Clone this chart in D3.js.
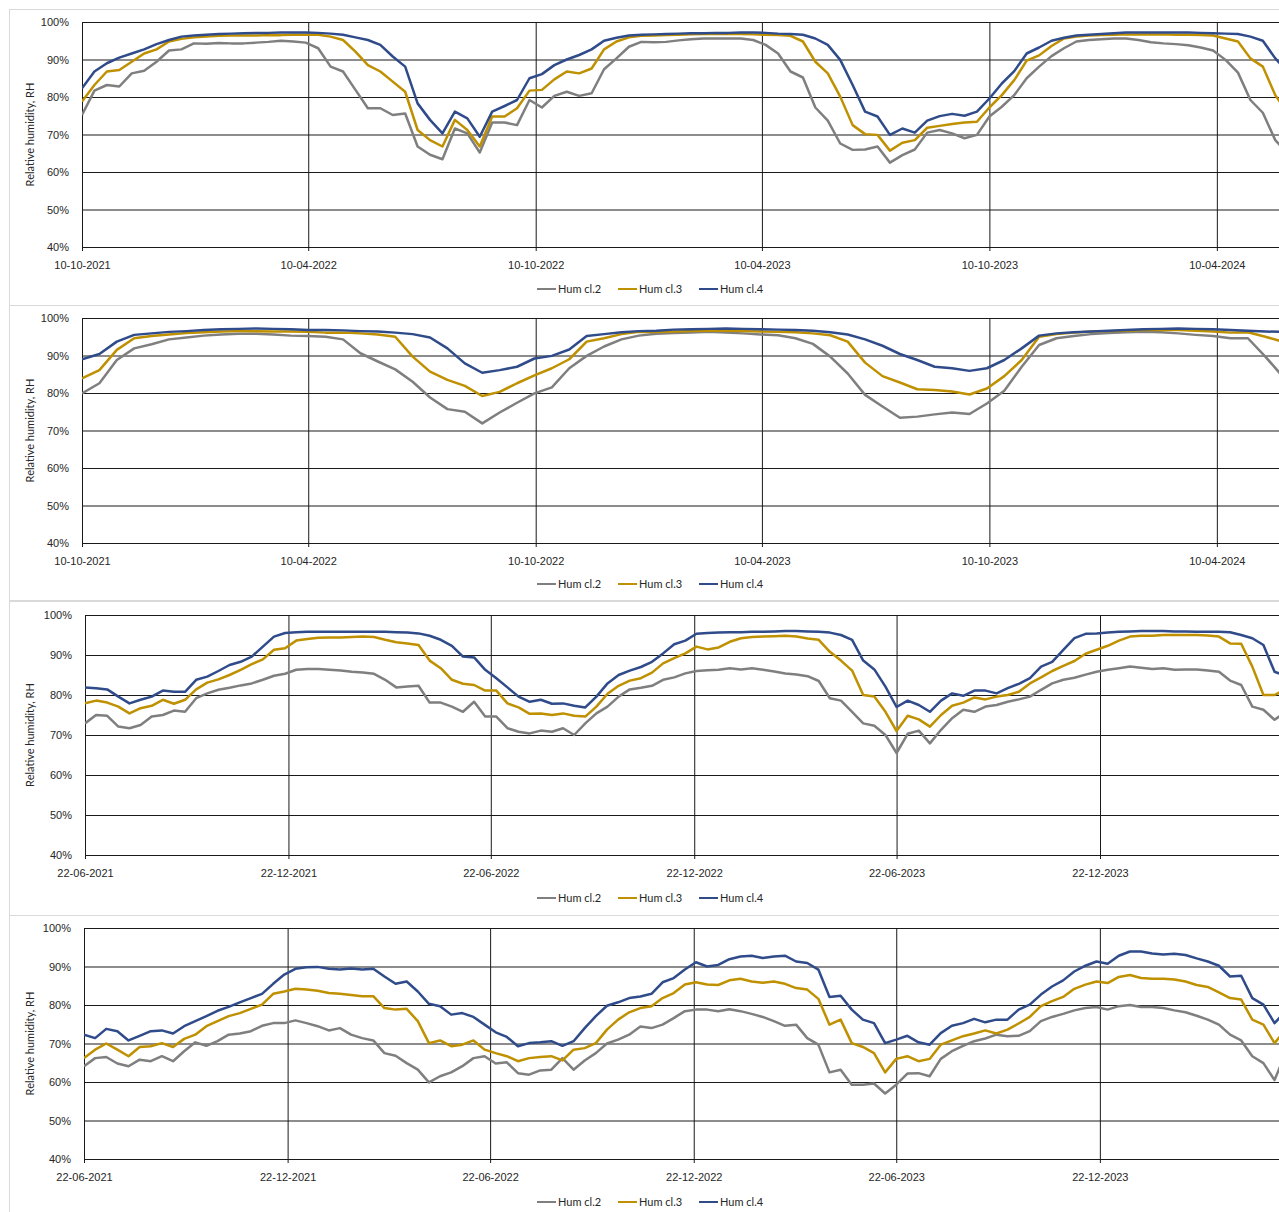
<!DOCTYPE html>
<html>
<head>
<meta charset="utf-8">
<script src="https://cdn.jsdelivr.net/npm/d3@7"></script>
<style>
  html, body { margin: 0; padding: 0; background: #fff; }
  svg { display: block; font-family: Lato, "Open Sans", sans-serif; }
</style>
</head>
<body>
<svg id="chart" width="1279" height="1212"></svg>
<script>
// series names / colours shared by all four panels
const seriesNames = ["Hum cl.2", "Hum cl.3", "Hum cl.4"];
const seriesColors = ["#7f7f7f", "#bf9000", "#2f4b8a"];
const yTickValues = [40, 50, 60, 70, 80, 90, 100];
const ticksOct = ["10-10-2021", "10-04-2022", "10-10-2022", "10-04-2023", "10-10-2023", "10-04-2024"];
const ticksJun = ["22-06-2021", "22-12-2021", "22-06-2022", "22-12-2022", "22-06-2023", "22-12-2023"];

// panel 1: samples every 10 days from 10-10-2021
const p1Cl2 = [75.2,81.7,83.2,82.8,86.3,87,89.4,92.4,92.7,94.3,94.2,94.4,94.3,94.3,94.5,94.7,95,94.8,94.5,93,
  88.1,86.8,81.9,77,77,75.2,75.6,66.8,64.6,63.4,71.6,70.3,65.2,73.2,73.2,72.5,79.2,77.2,80.3,81.4,
  80.3,81,87.4,90.3,93.4,94.7,94.6,94.7,95.1,95.4,95.6,95.6,95.6,95.6,95.2,93.9,91.6,86.8,85.2,77.2,
  73.7,67.6,65.9,66,66.8,62.5,64.5,66,70.5,71.2,70.3,69,69.9,74.8,77.4,80.5,85,88.1,90.9,93,
  94.8,95.2,95.4,95.6,95.6,95.2,94.6,94.3,94.1,93.8,93.2,92.4,89.9,86.5,79.2,75.8,68.5,65];
const p1Cl3 = [78.8,83.2,86.8,87.2,89.4,91.6,92.7,94.8,95.5,95.9,96.1,96.3,96.4,96.4,96.4,96.5,96.5,96.6,96.6,96.6,
  96.1,95.2,92.1,88.5,86.8,84.1,81.4,71.2,68.5,66.8,73.9,71.2,66.8,74.8,74.8,77,81.7,81.9,84.7,86.8,
  86.3,87.6,92.7,94.8,95.9,96.3,96.4,96.5,96.6,96.7,96.8,96.8,96.8,96.8,96.7,96.6,96.5,96.3,94.8,89.4,
  86.3,80.1,72.5,70.1,69.9,65.7,67.8,68.5,71.8,72.3,72.8,73.2,73.4,77.2,80.5,84.5,89.7,91.1,93.6,95.6,
  96.1,96.4,96.5,96.6,96.7,96.7,96.7,96.7,96.6,96.6,96.5,96.4,95.6,94.8,90.3,88.1,80.5,75.6];
const p1Cl4 = [82.3,86.8,89,90.5,91.6,92.7,94.1,95.2,96.1,96.4,96.6,96.8,96.9,97,97.1,97.1,97.2,97.2,97.2,97.1,
  96.9,96.6,95.9,95.2,93.9,90.8,88.1,78.3,73.9,70.3,76.1,74.3,69.4,76.1,77.6,79.2,85,86.1,88.5,90,
  91.2,92.7,95,95.8,96.4,96.6,96.7,96.8,96.9,97,97,97.1,97.1,97.2,97.2,97.1,96.9,96.8,96.6,95.6,
  93.9,89.9,83.2,76.1,74.8,69.9,71.6,70.5,73.7,74.9,75.5,75,76.1,79.6,83.6,86.9,91.6,93.2,95,95.8,
  96.4,96.6,96.8,97,97.2,97.2,97.2,97.2,97.2,97.2,97.1,97,96.9,96.8,96.1,95,90.3,86.8];

// panel 2: samples every 14 days from 10-10-2021
const p2Cl2 = [79.9,82.6,88.8,91.9,93,94.3,94.8,95.3,95.6,95.8,95.8,95.6,95.3,95.2,95,94.3,90.6,88.4,86.3,83,
  78.8,75.7,75,71.9,74.8,77.4,79.9,81.5,86.6,89.9,92.4,94.3,95.3,95.8,96,96.1,96.3,96.1,95.9,95.6,
  95.4,94.6,93.1,89.7,85.2,79.5,76.4,73.4,73.7,74.3,74.8,74.4,77.2,80.6,87,92.8,94.6,95.2,95.7,96,
  96.2,96.3,96.2,95.9,95.5,95.2,94.6,94.6,89.7,84.4];
const p2Cl3 = [83.9,86.1,91.5,94.6,95.2,95.6,96,96.2,96.4,96.5,96.5,96.4,96.4,96.3,96.1,96.1,95.9,95.6,95,89.7,
  85.7,83.5,81.9,79.2,80.3,82.6,84.7,86.6,89,93.7,94.6,95.7,96.3,96.3,96.4,96.5,96.6,96.6,96.5,96.4,
  96.3,96.2,95.9,95.4,93.7,88.1,84.5,82.8,81,80.8,80.4,79.6,81.2,84.5,88.8,95,95.7,96.1,96.4,96.5,
  96.6,96.8,96.8,96.8,96.6,96.4,96.1,96.2,95,93.7];
const p2Cl4 = [89,90.4,93.7,95.5,95.9,96.3,96.5,96.8,97,97.1,97.2,97.1,97,96.8,96.8,96.7,96.5,96.4,96.1,95.7,
  94.8,91.9,87.9,85.4,86.1,87,89.2,89.9,91.6,95.2,95.7,96.2,96.5,96.6,96.9,97,97.1,97.2,97.1,97,
  96.9,96.8,96.6,96.2,95.6,94.3,92.6,90.4,88.8,87,86.6,85.9,86.6,88.8,91.9,95.3,95.9,96.2,96.4,96.6,
  96.8,97,97.1,97.2,97.1,97,96.8,96.6,96.4,96.3];

// panel 3: samples every 10 days from 22-06-2021
const p3Cl2 = [72.9,75,74.8,72.1,71.7,72.5,74.6,75,76.1,75.8,79.2,80.4,81.3,81.8,82.4,82.9,83.8,84.8,85.3,86.3,
  86.5,86.5,86.3,86.1,85.8,85.6,85.3,83.8,81.9,82.1,82.3,78.1,78.1,77.1,75.8,78.3,74.6,74.6,71.7,70.8,
  70.4,71.1,70.8,71.7,70,72.9,75.4,77.1,79.6,81.4,81.8,82.3,83.8,84.4,85.4,86,86.2,86.3,86.7,86.4,
  86.7,86.3,85.9,85.4,85.1,84.7,83.5,79.2,78.6,75.8,72.9,72.3,70,65.5,70.3,71.1,67.9,71.3,74.2,76.3,
  75.8,77.1,77.5,78.3,78.9,79.6,81.3,82.9,83.8,84.3,85.1,85.8,86.3,86.7,87.1,86.8,86.5,86.7,86.3,86.4,
  86.4,86.1,85.8,83.6,82.5,77.1,76.3,73.8,75.8];
const p3Cl3 = [77.9,78.6,78.1,77.1,75.4,76.7,77.3,78.8,77.8,78.8,81.4,83.1,83.9,85,86.3,87.7,88.9,91.3,91.7,93.6,
  94,94.3,94.4,94.4,94.5,94.6,94.5,93.8,93.2,92.9,92.5,88.6,86.7,83.8,82.8,82.5,81.1,81.1,77.9,76.9,
  75.3,75.4,75,75.4,74.8,74.6,77.1,80.3,82.3,83.6,84.2,85.6,87.9,89.2,90.4,92.1,91.4,91.9,93.3,94.2,
  94.5,94.6,94.7,94.8,94.6,94.1,93.8,90.8,88.6,86.1,80,79.6,75.8,71,74.8,73.9,72.1,75,77.3,78.1,
  79.4,78.9,79.6,80,80.8,82.9,84.4,86,87.3,88.5,90.3,91.3,92.3,93.6,94.6,94.8,94.8,95,95,95,
  95,94.9,94.6,92.9,92.8,87.1,80,80,81.4];
const p3Cl4 = [81.9,81.7,81.4,79.6,77.9,78.8,79.6,81.1,80.8,80.8,83.8,84.6,86,87.5,88.3,89.6,92.1,94.6,95.5,95.7,
  95.8,95.8,95.8,95.8,95.8,95.8,95.8,95.8,95.7,95.6,95.4,94.8,93.8,92.3,89.6,89.4,86.3,84.2,81.9,79.6,
  78.3,78.8,77.8,77.9,77.3,76.9,79.6,82.9,85,86.1,87,88.3,90.4,92.7,93.6,95.3,95.5,95.6,95.7,95.7,
  95.8,95.8,95.9,96,96,95.9,95.8,95.6,95,93.8,88.6,86.4,82.1,77,78.6,77.5,75.8,78.6,80.4,79.8,
  81.1,81.1,80.4,81.7,82.8,84.2,87.1,88.3,91.3,94.2,95.3,95.4,95.6,95.8,95.9,96,96,96,95.9,95.9,
  95.8,95.8,95.8,95.7,95,94.2,92.5,85.8,84.8];

// panel 4: samples every 10 days from 22-06-2021
const p4Cl2 = [64.1,66.2,66.5,64.8,64.1,65.8,65.4,66.7,65.4,68,70.3,69.4,70.6,72.3,72.6,73.2,74.6,75.3,75.3,76,
  75.3,74.5,73.4,74,72.3,71.4,70.8,67.5,66.8,64.9,63.2,59.9,61.5,62.5,64.1,66.2,66.7,64.8,65.1,62.3,
  61.9,63,63.2,66.2,63.2,65.6,67.5,70,71,72.3,74.4,74,74.9,76.6,78.4,78.8,78.8,78.4,78.9,78.4,
  77.7,76.9,75.8,74.6,74.9,71.4,69.7,62.5,63.2,59.3,59.3,59.6,57,59.3,62.2,62.3,61.5,66,68,69.4,
  70.6,71.3,72.3,71.9,72,73.2,75.8,76.9,77.7,78.6,79.2,79.5,78.8,79.7,80,79.5,79.5,79.2,78.6,78.1,
  77.2,76.2,74.9,72.3,70.8,66.7,64.9,60.5,67.5];
const p4Cl3 = [66.2,68.4,70,68.4,66.7,69.1,69.3,70.1,69.1,71.2,72.3,74.5,75.8,77.1,77.9,79,80.1,82.9,83.5,84.2,
  84,83.7,83.1,82.9,82.6,82.3,82.3,79.2,78.8,79,75.8,70.1,70.8,69.3,69.7,70.8,68.4,67.5,66.7,65.4,
  66.2,66.5,66.7,65.6,68.4,68.8,70.1,73.6,76.2,78.1,79.2,79.7,81.8,83.1,85.3,85.9,85.3,85.2,86.4,86.8,
  86.1,85.8,86.1,85.5,84.4,84,81.6,74.9,76.2,70.1,69.1,67.5,62.5,66,66.7,65.4,66,69.7,70.8,71.9,
  72.6,73.4,72.6,73.6,75.2,76.9,79.7,81,82.1,84.2,85.3,86.1,85.7,87.3,87.8,87,86.8,86.8,86.6,86.1,
  85.2,84.7,83.3,81.8,81.4,76.2,74.9,70.1,73.6];
const p4Cl4 = [72.3,71.4,73.8,73.2,70.8,72,73.2,73.4,72.6,74.5,75.8,77.1,78.5,79.5,80.7,81.8,82.9,85.5,87.9,89.4,
  89.8,89.9,89.4,89.2,89.5,89.2,89.4,87.4,85.5,86.1,83.5,80.3,79.7,77.5,77.9,76.9,74.9,72.9,71.7,69.3,
  70.1,70.3,70.6,69.4,70.6,74,77.1,79.8,80.7,81.8,82.2,82.9,85.9,87,89.2,91.1,90,90.4,91.9,92.6,
  92.8,92.2,92.6,92.8,91.3,90.9,89.2,82.1,82.4,78.8,76.2,75.3,70.1,71,72,70.3,69.7,72.7,74.6,75.3,
  76.4,75.5,76.2,76.2,78.8,80.1,82.7,84.8,86.4,88.7,90.2,91.3,90.7,92.8,93.9,93.9,93.4,93.1,93.3,93,
  92.1,91.3,90.2,87.4,87.6,81.8,80.1,75.3,78.4];

const parse = d3.utcParse("%d-%m-%Y");
const fmt = d3.utcFormat("%d-%m-%Y");
const W = 1279;
const textColor = "#262626";

const panels = [
  {box: [9, 305], top: 22, bottom: 247, left: 82, start: "10-10-2021", end: "30-05-2024", step: 10,
   ticks: ticksOct, data: [p1Cl2, p1Cl3, p1Cl4], legendY: 289},
  {box: [305, 600], top: 318, bottom: 543, left: 82, start: "10-10-2021", end: "30-05-2024", step: 14,
   ticks: ticksOct, data: [p2Cl2, p2Cl3, p2Cl4], legendY: 584},
  {box: [601, 915], top: 615, bottom: 855, left: 85, start: "22-06-2021", end: "31-05-2024", step: 10,
   ticks: ticksJun, data: [p3Cl2, p3Cl3, p3Cl4], legendY: 898},
  {box: [915, 1240], top: 928, bottom: 1159, left: 84, start: "22-06-2021", end: "31-05-2024", step: 10,
   ticks: ticksJun, data: [p4Cl2, p4Cl3, p4Cl4], legendY: 1202}
];

const svg = d3.select("#chart");

panels.forEach(function (p, pi) {
  const start = parse(p.start);
  const x = d3.scaleUtc().domain([start, parse(p.end)]).range([p.left, W]);
  const y = d3.scaleLinear().domain([40, 100]).range([p.bottom, p.top]);

  const g = svg.append("g").attr("class", "panel");

  // chart area border
  g.append("rect")
    .attr("x", 9.5).attr("y", p.box[0] + 0.5)
    .attr("width", W + 20).attr("height", p.box[1] - p.box[0])
    .attr("fill", "none").attr("stroke", "#d9d9d9");

  // horizontal gridlines
  g.append("g")
    .attr("transform", `translate(${p.left},0)`)
    .call(d3.axisLeft(y).tickValues(yTickValues).tickSize(-(W - p.left)).tickFormat(""))
    .call(a => a.select(".domain").remove())
    .call(a => a.selectAll(".tick line").attr("stroke", "#1a1a1a"));

  // vertical gridlines
  g.append("g")
    .attr("transform", `translate(0,${p.top})`)
    .call(d3.axisTop(x).tickValues(p.ticks.map(parse)).tickSize(-(p.bottom - p.top)).tickFormat(""))
    .call(a => a.select(".domain").remove())
    .call(a => a.selectAll(".tick line").attr("stroke", "#1a1a1a"));

  // x axis with small ticks and date labels
  g.append("g")
    .attr("transform", `translate(0,${p.bottom})`)
    .call(d3.axisBottom(x).tickValues(p.ticks.map(parse)).tickFormat(fmt).tickSize(4).tickPadding(10))
    .call(a => a.select(".domain").remove())
    .call(a => a.selectAll(".tick line").attr("stroke", "#1a1a1a"))
    .call(a => a.selectAll("text").attr("font-size", 11).attr("font-family", null).attr("fill", textColor));

  // y axis
  g.append("g")
    .attr("transform", `translate(${p.left},0)`)
    .call(d3.axisLeft(y).tickValues(yTickValues).tickFormat(d => d + "%").tickSize(0).tickPadding(13))
    .call(a => a.select(".domain").attr("stroke", "#1a1a1a"))
    .call(a => a.selectAll("text").attr("font-size", 11).attr("font-family", null).attr("fill", textColor));

  g.append("text")
    .attr("transform", `translate(31,${(p.top + p.bottom) / 2}) rotate(-90)`)
    .attr("text-anchor", "middle")
    .attr("dominant-baseline", "middle")
    .attr("font-size", 11)
    .attr("fill", textColor)
    .text("Relative humidity, RH");

  // clip lines to plot area
  const clipId = "clip" + pi;
  g.append("clipPath").attr("id", clipId)
    .append("rect").attr("x", p.left).attr("y", p.top - 3)
    .attr("width", W - p.left).attr("height", p.bottom - p.top + 3);

  const line = d3.line()
    .x((d, i) => x(d3.utcDay.offset(start, i * p.step)))
    .y(d => y(d));

  p.data.forEach(function (vals, si) {
    g.append("path")
      .attr("clip-path", `url(#${clipId})`)
      .attr("fill", "none")
      .attr("stroke", seriesColors[si])
      .attr("stroke-width", 2.5)
      .attr("stroke-linejoin", "round")
      .attr("d", line(vals));
  });

  // legend
  const leg = g.append("g").attr("transform", `translate(537,${p.legendY})`);
  seriesNames.forEach(function (name, si) {
    const item = leg.append("g").attr("transform", `translate(${si * 81},0)`);
    item.append("line").attr("x1", 0).attr("x2", 19).attr("y1", 0).attr("y2", 0)
      .attr("stroke", seriesColors[si]).attr("stroke-width", 2);
    item.append("text").attr("x", 21).attr("dy", "0.35em")
      .attr("font-size", 11).attr("fill", textColor).text(name);
  });
});
</script>
</body>
</html>
